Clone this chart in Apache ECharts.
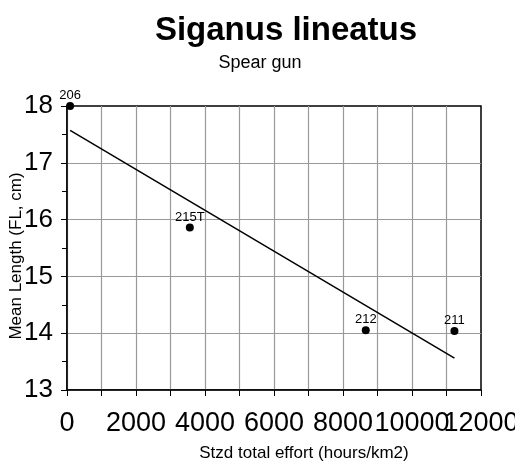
<!DOCTYPE html>
<html>
<head>
<meta charset="utf-8">
<style>
  html, body { margin: 0; padding: 0; background: #fff; }
  #chart { width: 515px; height: 464px; }
</style>
<script src="https://cdn.jsdelivr.net/npm/echarts@6/dist/echarts.min.js"></script>
</head>
<body>
<div id="chart"></div>
<script>
// sites: effort (hours/km2), mean length (cm)
const siteNames = ["206", "215T", "212", "211"];
const effort = [90, 3560, 8660, 11230];
const meanLength = [18.0, 15.86, 14.05, 14.04];

// fitted line end points
const fitEffort = [90, 11230];
const fitLength = [17.57, 13.56];

const FONT = "Liberation Sans, Arial, sans-serif";

const chart = echarts.init(document.getElementById("chart"));

chart.setOption({
  animation: false,
  textStyle: { fontFamily: FONT },
  title: [
    {
      text: "Siganus lineatus",
      left: 281,
      top: 9,
      textAlign: "center",
      textStyle: { fontSize: 33, fontWeight: "bold", color: "#000", fontFamily: FONT },
    },
    {
      text: "Spear gun",
      left: 255,
      top: 49,
      textAlign: "center",
      textStyle: { fontSize: 18, fontWeight: "normal", color: "#000", fontFamily: FONT },
    },
  ],
  grid: {
    left: 67,
    right: 34,
    top: 106,
    bottom: 74,
    outerBoundsMode: "none",
    show: true,
    borderColor: "#000",
    borderWidth: 1.5,
  },
  xAxis: {
    type: "value",
    min: 0,
    max: 12000,
    interval: 1000,
    name: "Stzd total effort (hours/km2)",
    nameLocation: "middle",
    nameGap: 55,
    nameMoveOverlap: false,
    nameTextStyle: { fontSize: 17, color: "#000", padding: [0, 0, 0, 60] },
    axisLine: { lineStyle: { color: "#000", width: 1.5 } },
    axisTick: { length: 6, lineStyle: { color: "#000" } },
    axisLabel: {
      fontSize: 27,
      color: "#000",
      margin: 20,
      formatter: (v) => (v % 2000 === 0 ? String(v) : ""),
    },
    splitLine: { show: true, showMaxLine: false, lineStyle: { color: "#999", width: 1.2 } },
  },
  yAxis: {
    type: "value",
    min: 13,
    max: 18,
    interval: 1,
    name: "Mean Length (FL, cm)",
    nameLocation: "middle",
    nameGap: 42,
    nameMoveOverlap: false,
    nameTextStyle: { fontSize: 17, color: "#000", padding: [0, 16, 0, 0] },
    axisLine: { show: true, lineStyle: { color: "#000", width: 1.5 } },
    axisTick: { show: true, length: 6, lineStyle: { color: "#000" } },
    minorTick: { show: true, splitNumber: 2, length: 5, lineStyle: { color: "#000" } },
    axisLabel: { fontSize: 26, color: "#000", margin: 14 },
    splitLine: { show: true, showMaxLine: false, lineStyle: { color: "#999", width: 1.2 } },
  },
  series: [
    {
      type: "line",
      data: fitEffort.map((x, i) => [x, fitLength[i]]),
      showSymbol: false,
      lineStyle: { color: "#000", width: 1.5 },
      z: 3,
    },
    {
      type: "scatter",
      data: effort.map((x, i) => ({ value: [x, meanLength[i]], name: siteNames[i] })),
      symbolSize: 8,
      itemStyle: { color: "#000", opacity: 1 },
      label: {
        show: true,
        position: "top",
        distance: 0,
        formatter: (p) => p.name,
        fontSize: 13,
        color: "#000",
        fontFamily: FONT,
      },
      z: 4,
    },
  ],
});
</script>
</body>
</html>
